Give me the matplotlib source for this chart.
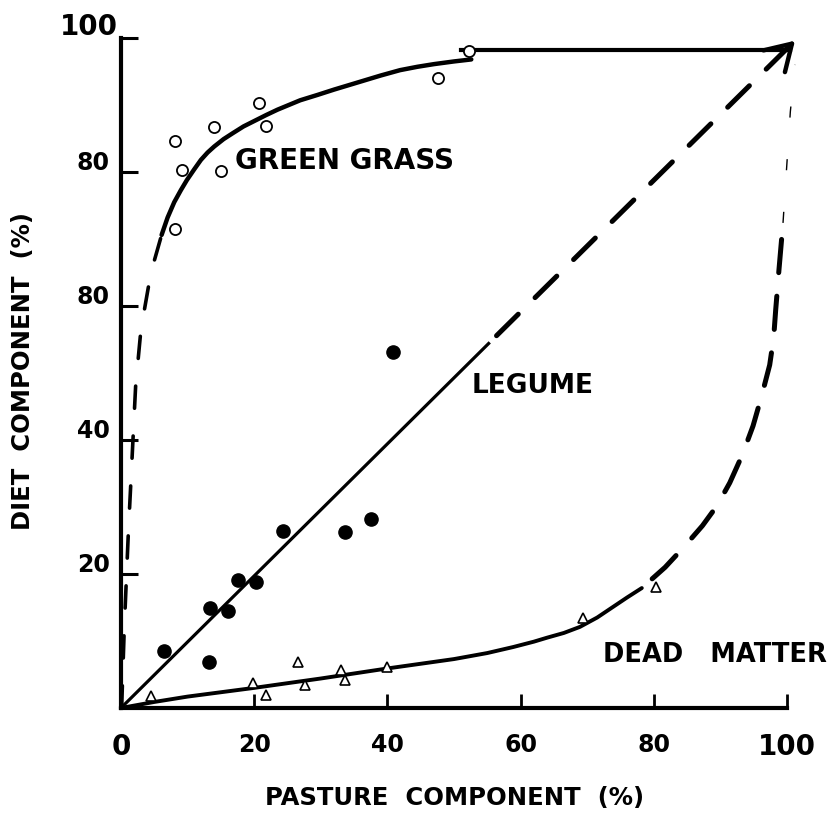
import matplotlib
matplotlib.use("Agg")
import matplotlib.pyplot as plt
import matplotlib.transforms as mtransforms

plt.rcParams['font.family'] = ['DejaVu Sans']
plt.rcParams['lines.scale_dashes'] = False

grass_x = [8.1, 9.2, 8.1, 14.0, 15.0, 20.7, 21.8, 47.6, 52.2]
grass_y = [71.5, 80.3, 84.6, 86.7, 80.1, 90.3, 86.9, 94.1, 98.1]

legume_x = [6.5, 13.2, 13.4, 16.0, 17.5, 20.2, 24.3, 33.6, 37.5, 40.8]
legume_y = [8.5, 6.8, 14.9, 14.5, 19.1, 18.8, 26.4, 26.2, 28.2, 53.1]

dead_x = [4.5, 19.8, 21.8, 26.6, 27.7, 33.1, 33.6, 40.0, 69.4, 80.3]
dead_y = [1.8, 3.8, 1.9, 6.9, 3.4, 5.6, 4.2, 6.1, 13.4, 18.0]

# Hand-drawn response curves
grass_fit_x = [6.1, 7.0, 8.0, 9.0, 9.9, 11.0, 12.0, 13.0, 14.0, 15.4, 16.8, 18.4, 20.0,
               21.8, 23.5, 25.2, 26.9, 29.5, 32.0, 34.0, 36.0, 39.0, 41.9, 44.5, 47.0, 50.0, 52.6]
grass_fit_y = [70.6, 73.2, 75.5, 77.3, 78.8, 80.4, 81.8, 82.9, 83.8, 84.9, 85.8, 86.8, 87.6,
               88.5, 89.3, 90.0, 90.7, 91.5, 92.3, 92.9, 93.5, 94.4, 95.2, 95.7, 96.1, 96.5, 96.8]
grass_dash_x = [0.1, 0.5, 1.1, 1.5, 2.2, 3.0, 4.5, 6.1]
grass_dash_y = [0.0, 12.0, 26.0, 34.0, 48.0, 56.5, 65.0, 70.6]
grass_flat_x = [51.0, 100.5]
grass_flat_y = [98.2, 98.2]

legume_fit_x = [0.0, 55.2]
legume_fit_y = [0.0, 54.4]
legume_dash_x = [55.2, 101.2]
legume_dash_y = [54.4, 99.6]

dead_fit_x = [0.0, 5.0, 10.0, 20.0, 30.0, 40.0, 50.0, 55.0, 58.9, 62.0, 64.0, 66.5, 68.9,
              71.5, 73.9, 76.0, 78.2]
dead_fit_y = [0.0, 0.9, 1.7, 3.0, 4.4, 5.9, 7.3, 8.2, 9.1, 9.9, 10.5, 11.2, 12.1,
              13.5, 15.1, 16.5, 17.9]
dead_dash_x = [78.2, 81.7, 84.5, 87.3, 89.5, 91.4, 93.3, 94.9, 96.2, 97.4, 98.0, 98.3, 98.8, 99.4]
dead_dash_y = [17.9, 21.0, 24.0, 27.2, 30.2, 33.6, 37.8, 42.1, 46.6, 51.2, 55.3, 59.4, 65.5, 72.4]
dead_top_x = [99.4, 99.9, 100.5, 101.2]
dead_top_y = [72.4, 80.0, 89.0, 96.0]

xticks = [0, 20, 40, 60, 80, 100]
xtick_labels = ['0', '20', '40', '60', '80', '100']
yticks = [20, 40, 60, 80, 100]
ytick_labels = ['20', '40', '80', '80', '100']   # as printed in the original

fig = plt.figure(figsize=(8.36, 8.24), dpi=100)
ax = fig.add_axes([0.1447, 0.1408, 0.7967, 0.8131])
ax.set_xlim(0, 100)
ax.set_ylim(0, 100)

# curves
ax.plot(grass_fit_x, grass_fit_y, color='black', lw=3.2, solid_capstyle='round',
        solid_joinstyle='round', clip_on=False)
ax.plot(grass_dash_x, grass_dash_y, color='black', lw=2.6, linestyle=(0, (16, 20)),
        dash_capstyle='round', dash_joinstyle='round', clip_on=False)
ax.plot(grass_flat_x, grass_flat_y, color='black', lw=3.0, clip_on=False)

ax.plot(legume_fit_x, legume_fit_y, color='black', lw=2.3, clip_on=False)
ax.plot(legume_dash_x, legume_dash_y, color='black', lw=3.6, linestyle=(-8, (22, 17)),
        dash_capstyle='round', clip_on=False)
tip = (legume_dash_x[-1], legume_dash_y[-1])
back = (tip[0] - 0.03 * (legume_dash_x[-1] - legume_dash_x[0]),
        tip[1] - 0.03 * (legume_dash_y[-1] - legume_dash_y[0]))
ax.annotate('', xy=tip, xytext=back, annotation_clip=False,
            arrowprops=dict(arrowstyle='->,head_length=0.9,head_width=0.55', lw=3.2,
                            color='black', shrinkA=0, shrinkB=0, mutation_scale=20))

ax.plot(dead_fit_x, dead_fit_y, color='black', lw=2.8, solid_capstyle='round',
        solid_joinstyle='round', clip_on=False)
ax.plot(dead_dash_x, dead_dash_y, color='black', lw=3.6, linestyle=(-10, (24, 17)),
        dash_capstyle='round', dash_joinstyle='round', clip_on=False)
ax.plot(dead_top_x, dead_top_y, color='black', lw=1.0, linestyle=(0, (8, 30)), clip_on=False)

# points
ax.plot(grass_x, grass_y, 'o', mfc='white', mec='black', ms=8, mew=1.3, clip_on=False)
ax.plot(legume_x, legume_y, 'o', color='black', ms=9.5, clip_on=False)
ax.plot(dead_x, dead_y, '^', mfc='white', mec='black', ms=7, mew=1.2, clip_on=False)

# curve labels
ax.text(17.1, 81.6, 'GREEN GRASS', fontsize=20, fontweight='bold', va='center', ha='left')
ax.text(52.7, 48.1, 'LEGUME', fontsize=19, fontweight='bold', va='center', ha='left')
ax.text(72.4, 7.9, 'DEAD   MATTER', fontsize=18.5, fontweight='bold', va='center', ha='left',
        clip_on=False)

# axes styling
for s in ['top', 'right']:
    ax.spines[s].set_visible(False)
ax.spines['left'].set_linewidth(3.0)
ax.spines['bottom'].set_linewidth(3.0)

ax.set_xticks(xticks)
ax.set_xticklabels(xtick_labels, fontsize=17, fontweight='bold')
ax.set_yticks(yticks)
ax.set_yticklabels(ytick_labels, fontsize=17, fontweight='bold')
ax.tick_params(axis='x', direction='in', length=10, width=2, pad=18)
ax.tick_params(axis='y', direction='in', length=12, width=2.2, pad=8)

for lab in ax.get_xticklabels():
    if lab.get_text() in ('0', '100'):
        lab.set_fontsize(20)
        lab.set_fontweight('heavy')
up = mtransforms.ScaledTranslation(0, 0.11, fig.dpi_scale_trans)
nudge = mtransforms.ScaledTranslation(0.08, 0.03, fig.dpi_scale_trans)
for lab in ax.get_yticklabels():
    lab.set_transform(lab.get_transform() + up)
    if lab.get_text() == '100':
        lab.set_fontsize(20)
        lab.set_fontweight('heavy')
        lab.set_transform(lab.get_transform() + nudge)

fig.text(0.027, 0.55, 'DIET  COMPONENT  (%)', rotation=90, fontsize=17.5, fontweight='bold',
         ha='center', va='center')
fig.text(0.544, 0.032, 'PASTURE  COMPONENT  (%)', fontsize=17.5, fontweight='bold',
         ha='center', va='center')

fig.savefig('out.png', dpi=100)
